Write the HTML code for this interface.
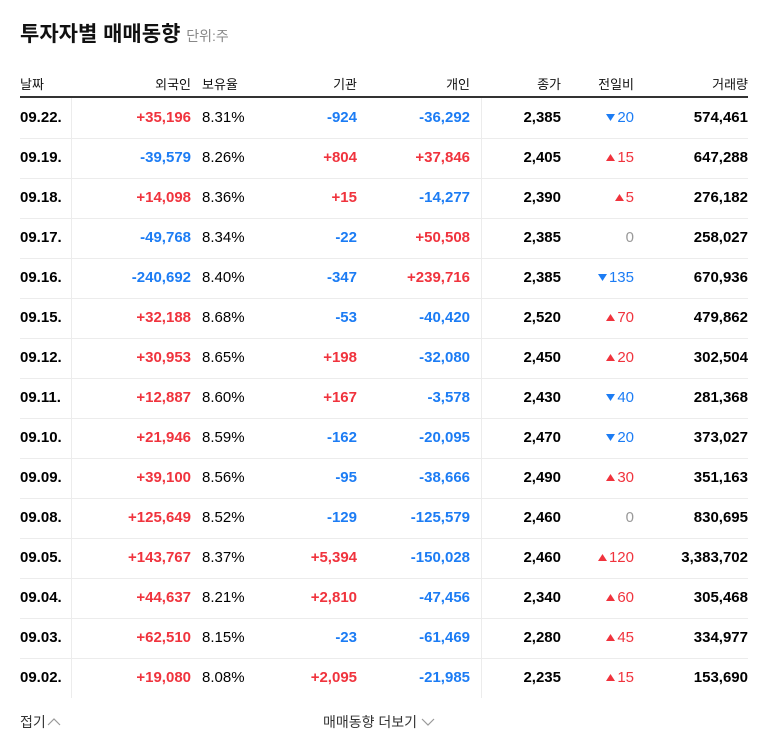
<!DOCTYPE html>
<html><head><meta charset="utf-8">
<style>
body{margin:0;width:768px;height:749px;background:#fff;font-family:"Liberation Sans","Noto Sans CJK KR",sans-serif;position:relative;overflow:hidden}
.abs{position:absolute;white-space:nowrap}
.hd{font-size:13px;color:#111;top:74px}
.row{position:absolute;left:20px;width:728px;height:40px;border-bottom:1px solid #ececec}
.row.last{border-bottom:none}
.c{position:absolute;top:11px;font-size:15px;line-height:18px;white-space:nowrap}
.b{font-weight:bold}
.red{color:#f0333d}.blue{color:#1c7cf4}.gray{color:#999}
</style></head><body>
<div class="abs" style="left:20px;top:18px;font-size:21px;font-weight:bold;color:#111">투자자별 매매동향 <span style="font-size:14px;font-weight:normal;color:#888">단위:주</span></div>
<div class="abs hd" style="left:20px">날짜</div>
<div class="abs hd" style="right:577px">외국인</div>
<div class="abs hd" style="left:202px">보유율</div>
<div class="abs hd" style="right:411px">기관</div>
<div class="abs hd" style="right:298px">개인</div>
<div class="abs hd" style="right:207px">종가</div>
<div class="abs hd" style="right:134px">전일비</div>
<div class="abs hd" style="right:20px">거래량</div>
<div class="abs" style="left:20px;top:96px;width:728px;height:2px;background:#333"></div>
<div id="rows"></div>
<div class="abs" style="left:71px;top:98px;width:1px;height:600px;background:#ececec"></div>
<div class="abs" style="left:481px;top:98px;width:1px;height:600px;background:#ececec"></div>
<div class="abs" style="left:20px;top:712px;font-size:14px;color:#333">접기<svg width="14" height="10" style="margin-left:1px"><polyline points="1,8 7,2 13,8" fill="none" stroke="#999" stroke-width="1.2"/></svg></div>
<div class="abs" style="left:323px;top:712px;font-size:14px;color:#333">매매동향 더보기 <svg width="14" height="10"><polyline points="1,2 7,8 13,2" fill="none" stroke="#999" stroke-width="1.2"/></svg></div>
<script>
const dates=["09.22.","09.19.","09.18.","09.17.","09.16.","09.15.","09.12.","09.11.","09.10.","09.09.","09.08.","09.05.","09.04.","09.03.","09.02."];
const foreign=["+35,196","-39,579","+14,098","-49,768","-240,692","+32,188","+30,953","+12,887","+21,946","+39,100","+125,649","+143,767","+44,637","+62,510","+19,080"];
const holding=["8.31%","8.26%","8.36%","8.34%","8.40%","8.68%","8.65%","8.60%","8.59%","8.56%","8.52%","8.37%","8.21%","8.15%","8.08%"];
const inst=["-924","+804","+15","-22","-347","-53","+198","+167","-162","-95","-129","+5,394","+2,810","-23","+2,095"];
const indiv=["-36,292","+37,846","-14,277","+50,508","+239,716","-40,420","-32,080","-3,578","-20,095","-38,666","-125,579","-150,028","-47,456","-61,469","-21,985"];
const closes=["2,385","2,405","2,390","2,385","2,385","2,520","2,450","2,430","2,470","2,490","2,460","2,460","2,340","2,280","2,235"];
const changes=["-20","+15","+5","0","-135","+70","+20","-40","-20","+30","0","+120","+60","+45","+15"];
const volumes=["574,461","647,288","276,182","258,027","670,936","479,862","302,504","281,368","373,027","351,163","830,695","3,383,702","305,468","334,977","153,690"];
const root=document.getElementById('rows');
function col(v){return v[0]=='+'?'red':v[0]=='-'?'blue':'';}
function cell(row,name,text,cls,pos){const s=document.createElement('span');


s.className='c '+cls;s.textContent=text;Object.assign(s.style,pos);row.appendChild(s);}
dates.forEach((d,i)=>{const r=document.createElement('div');


r.className='row'+(i==dates.length-1?' last':'');r.style.top=(98+i*40)+'px';
cell(r,'date',d,'b',{left:'0px'});
cell(r,'foreign-net',foreign[i],'b '+col(foreign[i]),{right:'557px'});
cell(r,'holding-ratio',holding[i],'',{left:'182px'});
cell(r,'institution-net',inst[i],'b '+col(inst[i]),{right:'391px'});
cell(r,'individual-net',indiv[i],'b '+col(indiv[i]),{right:'278px'});
cell(r,'close-price',closes[i],'b',{right:'187px'});
const c=changes[i];let tri='',cl;
if(c[0]=='+'){tri='<svg width="9" height="8" style="margin-right:2px"><polygon points="0,7 4.5,0 9,7" fill="#f0333d"/></svg>';cl='red';}
else if(c[0]=='-'){tri='<svg width="9" height="8" style="margin-right:2px"><polygon points="0,0 9,0 4.5,7" fill="#1c7cf4"/></svg>';cl='blue';}
else cl='gray';
const s=document.createElement('span');


s.className='c '+cl;s.style.right='114px';
s.innerHTML=tri+(c=='0'?c:c.slice(1));
r.appendChild(s);
cell(r,'volume',volumes[i],'b',{right:'0px'});
root.appendChild(r);});
</script>
</body></html>
